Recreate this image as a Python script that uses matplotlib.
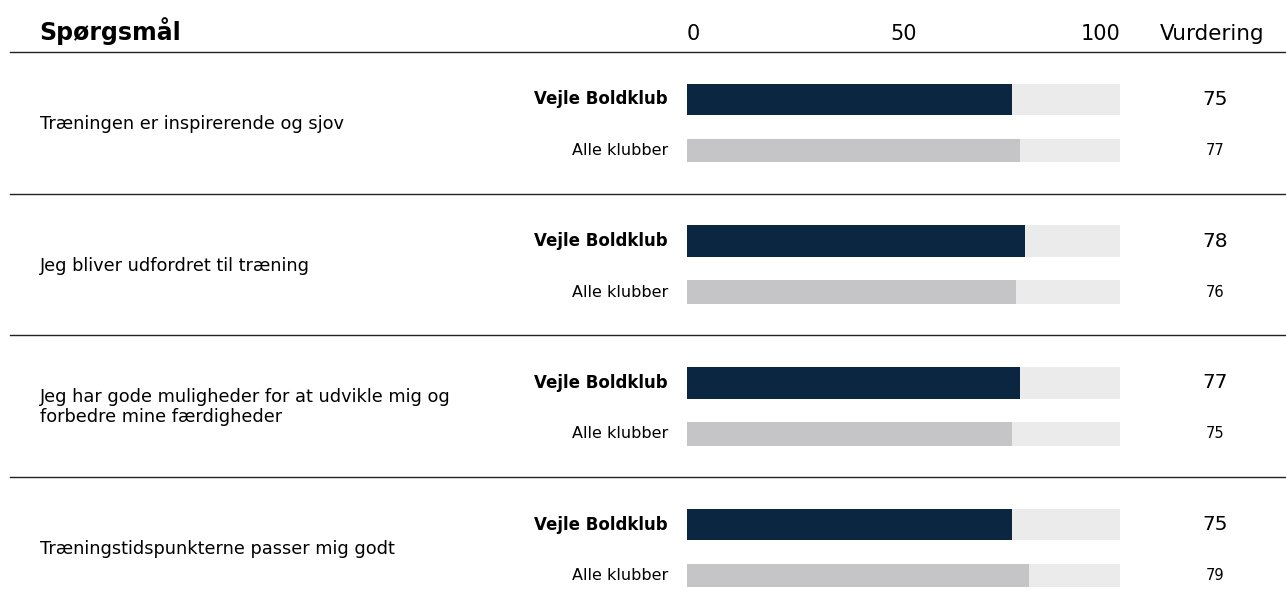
import numpy as np
import matplotlib.pyplot as plt
from matplotlib.transforms import blended_transform_factory

# data
questions = [
    "Træningen er inspirerende og sjov",
    "Jeg bliver udfordret til træning",
    "Jeg har gode muligheder for at udvikle mig og\nforbedre mine færdigheder",
    "Træningstidspunkterne passer mig godt",
]
club_scores = [75, 78, 77, 75]
all_scores = [77, 76, 75, 79]
club_name = "Vejle Boldklub"
all_name = "Alle klubber"
ticks = [0, 50, 100]

W, H = 1286, 612
row = 141.7          # pixel height of one question block
top = 52             # header line, pixels from top

fig = plt.figure(figsize=(W / 100, H / 100), dpi=100)
ax = fig.add_axes([687 / W, 0, (1120 - 687) / W, 1])
ax.set_xlim(0, 100)
ax.set_ylim((H - top) / row, -top / row)
ax.axis("off")

y = np.arange(len(questions))
dark_y = y + 47.5 / row
grey_y = y + 98.5 / row

ax.barh(dark_y, 100, height=31.5 / row, color="#ebebeb")
ax.barh(dark_y, club_scores, height=31.5 / row, color="#0b2640")
ax.barh(grey_y, 100, height=23.5 / row, color="#ebebeb")
ax.barh(grey_y, all_scores, height=23.5 / row, color="#c5c5c7")

tr = blended_transform_factory(fig.transFigure, ax.transData)

# header
base = -12 / row
ax.text(39 / W, base, "Spørgsmål", transform=tr, fontsize=17, fontweight="bold", va="baseline")
for t, ha in zip(ticks, ["left", "center", "right"]):
    ax.text(t, base, str(t), fontsize=15, ha=ha, va="baseline")
ax.text(1212 / W, base, "Vurdering", transform=tr, fontsize=15.5, ha="center", va="baseline")

# separators
for i in range(len(questions)):
    ax.plot([10 / W, 1], [i, i], transform=tr, clip_on=False, color="#222222", lw=1)

for i, q in enumerate(questions):
    ax.text(40 / W, i + 72 / row, q, transform=tr, fontsize=12.8, va="center", linespacing=1.15)
    ax.text(668 / W, dark_y[i], club_name, transform=tr, fontsize=12, fontweight="bold",
            ha="right", va="center")
    ax.text(668 / W, grey_y[i], all_name, transform=tr, fontsize=11.5, ha="right", va="center")
    ax.text(1215 / W, dark_y[i], str(club_scores[i]), transform=tr, fontsize=14.5,
            ha="center", va="center")
    ax.text(1215 / W, grey_y[i], str(all_scores[i]), transform=tr, fontsize=10.5,
            ha="center", va="center")

fig.savefig("out.png", dpi=100)
